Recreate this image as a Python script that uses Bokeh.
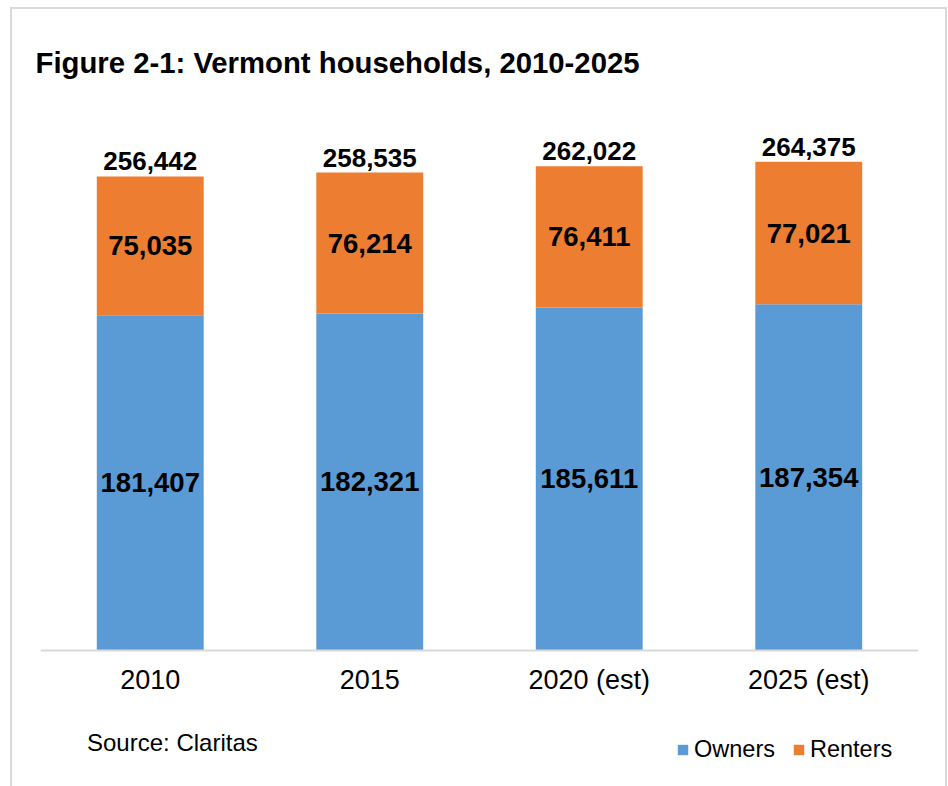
from bokeh.plotting import figure
from bokeh.models import ColumnDataSource, FactorRange, Range1d, Legend, LegendItem, Label
from bokeh.core.properties import value
from bokeh.embed import file_html
from bokeh.resources import INLINE

# ---- data ----
years = ["2010", "2015", "2020 (est)", "2025 (est)"]
owners = [181407, 182321, 185611, 187354]
renters = [75035, 76214, 76411, 77021]
totals = [256442, 258535, 262022, 264375]
series = ["Owners", "Renters"]
colors = ["#5B9BD5", "#ED7D31"]
source_note = "Source: Claritas"

FONT = "Liberation Sans"

def fmt(v):
    return f"{v:,}"

src = ColumnDataSource(data=dict(
    years=years,
    Owners=owners,
    Renters=renters,
    total=totals,
    own_mid=[o / 2 for o in owners],
    rent_mid=[o + r / 2 for o, r in zip(owners, renters)],
    own_lbl=[fmt(v) for v in owners],
    rent_lbl=[fmt(v) for v in renters],
    tot_lbl=[fmt(v) for v in totals],
))

p = figure(
    width=937, height=779,
    x_range=FactorRange(*years, range_padding=0),
    # negative start leaves room under the baseline for tick labels, source and legend
    y_range=Range1d(-74660, 302965),
    output_backend="svg", toolbar_location=None,
    min_border_left=28, min_border_right=31, min_border_top=81, min_border_bottom=0,
)
p.styles = {
    "border-top": "2px solid #D9D9D9",
    "border-left": "2px solid #D9D9D9",
    "border-right": "2px solid #D9D9D9",
    "margin-left": "10px",
    "margin-top": "7px",
}
p.outline_line_color = None
p.background_fill_color = "white"
p.border_fill_color = "white"

p.title.text = "Figure 2-1: Vermont households, 2010-2025"
p.title.text_font = FONT
p.title.text_font_size = "29.3px"
p.title.text_font_style = "bold"
p.title.text_color = "#000000"
p.title.align = "left"
p.title.offset = -5
p.title.standoff = 23

renderers = p.vbar_stack(series, x="years", width=0.487, source=src,
                         color=colors, line_color=None)

# labels
p.text(x="years", y="own_mid", text="own_lbl", source=src,
       text_font=value(FONT), text_font_size="27.5px", text_font_style="bold",
       text_align="center", text_baseline="middle", text_color="#000000")
p.text(x="years", y="rent_mid", text="rent_lbl", source=src,
       text_font=value(FONT), text_font_size="27.5px", text_font_style="bold",
       text_align="center", text_baseline="middle", text_color="#000000")
p.text(x="years", y="total", text="tot_lbl", source=src,
       text_font=value(FONT), text_font_size="26px", text_font_style="bold",
       text_align="center", text_baseline="alphabetic", y_offset=-15,
       text_color="#000000")

# axes
p.yaxis.visible = False
p.xgrid.grid_line_color = None
p.ygrid.grid_line_color = None
xa = p.xaxis[0]
xa.fixed_location = 0
xa.axis_line_color = "#D9D9D9"
xa.axis_line_width = 2
xa.major_tick_line_color = None
xa.minor_tick_line_color = None
xa.major_label_text_font = FONT
xa.major_label_text_font_size = "27px"
xa.major_label_text_color = "#000000"
xa.major_label_standoff = 9

# source note
p.add_layout(Label(x=46.5, y=46.5, x_units="screen", y_units="screen",
                   text=source_note, text_font=FONT, text_font_size="24px",
                   text_color="#000000", text_baseline="alphabetic"))

# legend
legend = Legend(
    items=[LegendItem(label=s, renderers=[r]) for s, r in zip(series, renderers)],
    orientation="horizontal",
    location=(636, 25),
    label_text_font=FONT, label_text_font_size="23.5px", label_text_color="#000000",
    glyph_width=13, glyph_height=13, label_standoff=5, spacing=17,
    padding=0, margin=0, border_line_color=None, background_fill_alpha=0,
)
p.add_layout(legend, "center")

open("out.html", "w").write(file_html(p, INLINE))
